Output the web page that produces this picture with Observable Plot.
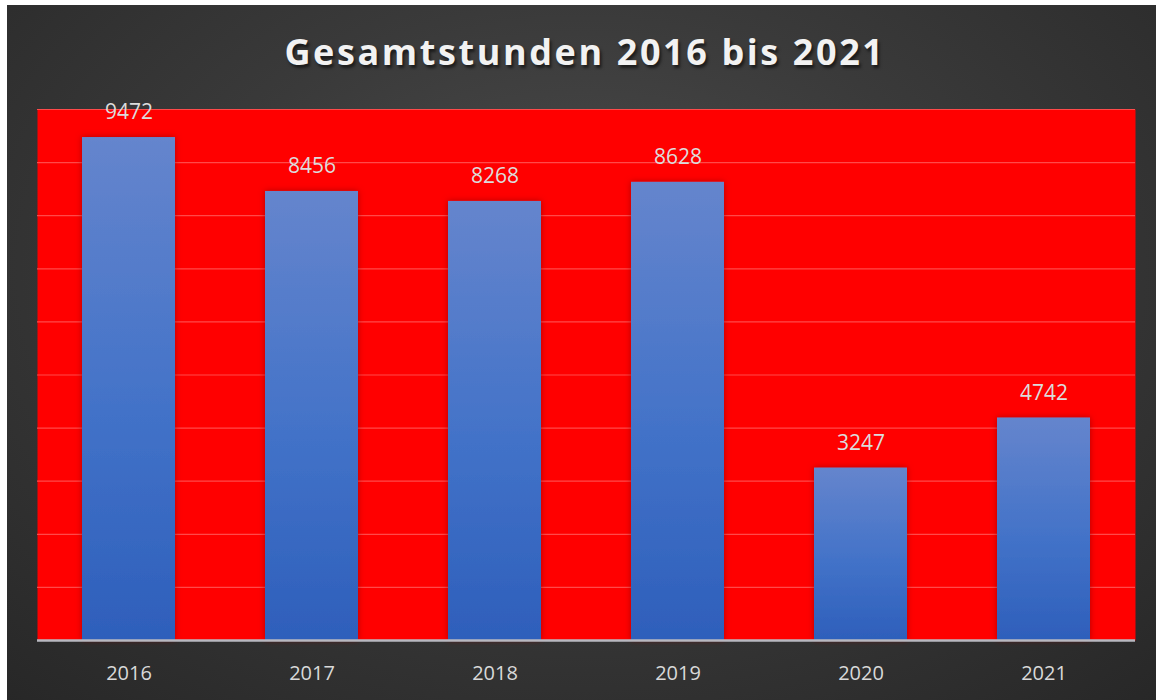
<!DOCTYPE html>
<html>
<head>
<meta charset="utf-8">
<script src="https://cdn.jsdelivr.net/npm/d3@7"></script>
<script src="https://cdn.jsdelivr.net/npm/@observablehq/plot@0.6"></script>
<style>
  html, body { margin: 0; padding: 0; background: #ffffff; }
  #wrap { position: relative; width: 1156px; height: 700px; overflow: hidden; background: #ffffff; }
  #panel { position: absolute; left: 7px; top: 5px; width: 1149px; height: 695px;
    background: radial-gradient(ellipse 75% 85% at 50% 38%, #4c4c4c 0%, #3a3a3a 45%, #272727 100%); }
  #title { position: absolute; left: 0; top: 27px; width: 1170px; text-align: center;
    font-family: "Open Sans", sans-serif; font-weight: 700; font-size: 36px; letter-spacing: 2.6px;
    color: #f2f2f2; text-shadow: 2px 3px 3px rgba(0,0,0,0.55); margin: 0; }
  #chart { position: absolute; left: 0; top: 0; }
</style>
</head>
<body>
<div id="wrap">
  <div id="panel"></div>
  <div id="chart"></div>
  <div id="title">Gesamtstunden 2016 bis 2021</div>
</div>
<script>
// Categories
const years = ["2016", "2017", "2018", "2019", "2020", "2021"];
// Bar heights as drawn in the reference (the 2021 bar is drawn lower than its label)
const barHeights = [9472, 8456, 8268, 8628, 3247, 4190];
// Data labels as printed above the bars
const barLabels = ["9472", "8456", "8268", "8628", "3247", "4742"];
// Gridline values
const gridValues = [1000, 2000, 3000, 4000, 5000, 6000, 7000, 8000, 9000, 10000];

const data = years.map((y, i) => ({year: y, value: barHeights[i], label: barLabels[i]}));

const chart = Plot.plot({
  width: 1156,
  height: 700,
  marginLeft: 37,
  marginRight: 21,
  marginTop: 109,
  marginBottom: 60,
  style: {background: "transparent", fontFamily: "Open Sans, sans-serif", overflow: "visible"},
  x: {domain: years, paddingInner: 0.49, paddingOuter: 0.245, label: null},
  y: {domain: [0, 10000], axis: null},
  marks: [
    Plot.frame({fill: "#ff0000", stroke: null}),
    Plot.ruleY(gridValues, {stroke: "#ff4a4a", strokeWidth: 1.2}),
    Plot.barY(data, {x: "year", y: "value", fill: "url(#barGrad)"}),
    Plot.ruleY([0], {stroke: "#b8b8c0", strokeWidth: 2.5}),
    Plot.text(data, {x: "year", y: "value", text: "label", dy: -25,
      fill: "#dcdcdc", fontSize: 21}),
    Plot.axisX({tickSize: 0, tickPadding: 25, fontSize: 20, color: "#d9d9d9", label: null})
  ]
});

const svg = d3.select(chart);
const defs = svg.insert("defs", ":first-child");
const g = defs.append("linearGradient").attr("id", "barGrad").attr("x1", 0).attr("y1", 0).attr("x2", 0).attr("y2", 1);
g.append("stop").attr("offset", "0%").attr("stop-color", "#6585cd");
g.append("stop").attr("offset", "55%").attr("stop-color", "#4272c8");
g.append("stop").attr("offset", "100%").attr("stop-color", "#2e5fbb");
const f = defs.append("filter").attr("id", "barShadow").attr("x", "-20%").attr("y", "-10%").attr("width", "140%").attr("height", "120%");
f.append("feDropShadow").attr("dx", 0).attr("dy", 0).attr("stdDeviation", 3).attr("flood-color", "#800000").attr("flood-opacity", 0.6);
svg.selectAll("g[aria-label='bar']").attr("filter", "url(#barShadow)");

document.getElementById("chart").appendChild(chart);
</script>
</body>
</html>
